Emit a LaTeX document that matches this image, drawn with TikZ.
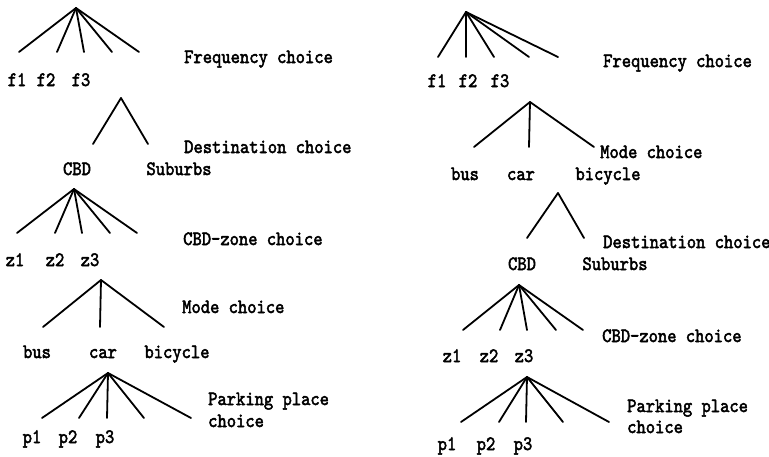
\documentclass[tikz,border=0pt]{standalone}
\usepackage{fontspec}
\usepackage{graphicx}
\newfontfamily\reffont[FakeBold=2.6]{lmmono10-regular.otf}
\newcommand\tallt[1]{\scalebox{1}[1.15]{#1}}
\tikzset{
  lab/.style={font=\reffont\fontsize{17.7}{20}\selectfont, inner sep=0pt, anchor=base},
  desc/.style={lab, anchor=base west},
  branch/.style={line width=1.8pt, line cap=round}
}
% fan of branches: apex name, leaf y, list of leaf x
\newcommand\fan[3]{%
  \foreach \lx [count=\i] in {#3} {
    \coordinate (#1-\i) at (\lx,#2);
    \draw[branch] (#1) -- (#1-\i);
  }}
\begin{document}
\begin{tikzpicture}[x=1pt,y=-1pt]
\useasboundingbox (0,0) rectangle (769,456);

% ---------------- left hierarchy ----------------
\coordinate (La) at (76,8);
\fan{La}{52}{19,57,84,112,139}
\node[desc] (Lfreq) at (184,63) {\tallt{Frequency choice}};
\node[lab] (Lf1) at (17,86) {\tallt{f1}};
\node[lab] (Lf2) at (46,86) {\tallt{f2}};
\node[lab] (Lf3) at (81,86) {\tallt{f3}};

\coordinate (Lb) at (121,98);
\fan{Lb}{144}{93,148}
\node[desc] (Ldest) at (184,153) {\tallt{Destination choice}};
\node[lab] (Lcbd) at (77,175) {\tallt{CBD}};
\node[lab] (Lsub) at (179,175) {\tallt{Suburbs}};

\coordinate (Lc) at (74,189);
\fan{Lc}{233}{17,55,82,110,137}
\node[desc] (Lzone) at (183,245) {\tallt{CBD-zone choice}};
\node[lab] (Lz1) at (15,266) {\tallt{z1}};
\node[lab] (Lz2) at (55,266) {\tallt{z2}};
\node[lab] (Lz3) at (90,266) {\tallt{z3}};

\coordinate (Ld) at (101,280);
\fan{Ld}{327}{43,100,164}
\node[desc] (Lmode) at (182,313) {\tallt{Mode choice}};
\node[lab] (Lbus) at (37,358) {\tallt{bus}};
\node[lab] (Lcar) at (103,358) {\tallt{car}};
\node[lab] (Lbic) at (177,358) {\tallt{bicycle}};

\coordinate (Le) at (108,373);
\fan{Le}{418}{42,79,107,144,191}
\node[desc] (Lpark) at (208,405) {\tallt{Parking place}};
\node[desc] (Lpark2) at (208,427) {\tallt{choice}};
\node[lab] (Lp1) at (32,443) {\tallt{p1}};
\node[lab] (Lp2) at (68,443) {\tallt{p2}};
\node[lab] (Lp3) at (105,443) {\tallt{p3}};

% ---------------- right hierarchy ----------------
\coordinate (Ra) at (466,12);
\fan{Ra}{57}{438,466,494,529,558}
\node[desc] (Rfreq) at (603,67) {\tallt{Frequency choice}};
\node[lab] (Rf1) at (437,87) {\tallt{f1}};
\node[lab] (Rf2) at (468,87) {\tallt{f2}};
\node[lab] (Rf3) at (500,87) {\tallt{f3}};

\coordinate (Rb) at (530,102);
\fan{Rb}{147}{474,529,594}
\node[desc] (Rmode) at (600,158) {\tallt{Mode choice}};
\node[lab] (Rbus) at (465,180) {\tallt{bus}};
\node[lab] (Rcar) at (521,180) {\tallt{car}};
\node[lab] (Rbic) at (608,180) {\tallt{bicycle}};

\coordinate (Rc) at (558,193);
\fan{Rc}{238}{527,584}
\node[desc] (Rdest) at (603,248) {\tallt{Destination choice}};
\node[lab] (Rcbd) at (522,270) {\tallt{CBD}};
\node[lab] (Rsub) at (615,270) {\tallt{Suburbs}};

\coordinate (Rd) at (519,285);
\fan{Rd}{330}{463,500,527,556,583}
\node[desc] (Rzone) at (602,342) {\tallt{CBD-zone choice}};
\node[lab] (Rz1) at (452,362) {\tallt{z1}};
\node[lab] (Rz2) at (489,362) {\tallt{z2}};
\node[lab] (Rz3) at (524,362) {\tallt{z3}};

\coordinate (Re) at (527,377);
\fan{Re}{422}{461,499,526,563,609}
\node[desc] (Rpark) at (627,412) {\tallt{Parking place}};
\node[desc] (Rpark2) at (627,433) {\tallt{choice}};
\node[lab] (Rp1) at (447,450) {\tallt{p1}};
\node[lab] (Rp2) at (486,450) {\tallt{p2}};
\node[lab] (Rp3) at (523,450) {\tallt{p3}};
\end{tikzpicture}
\end{document}
